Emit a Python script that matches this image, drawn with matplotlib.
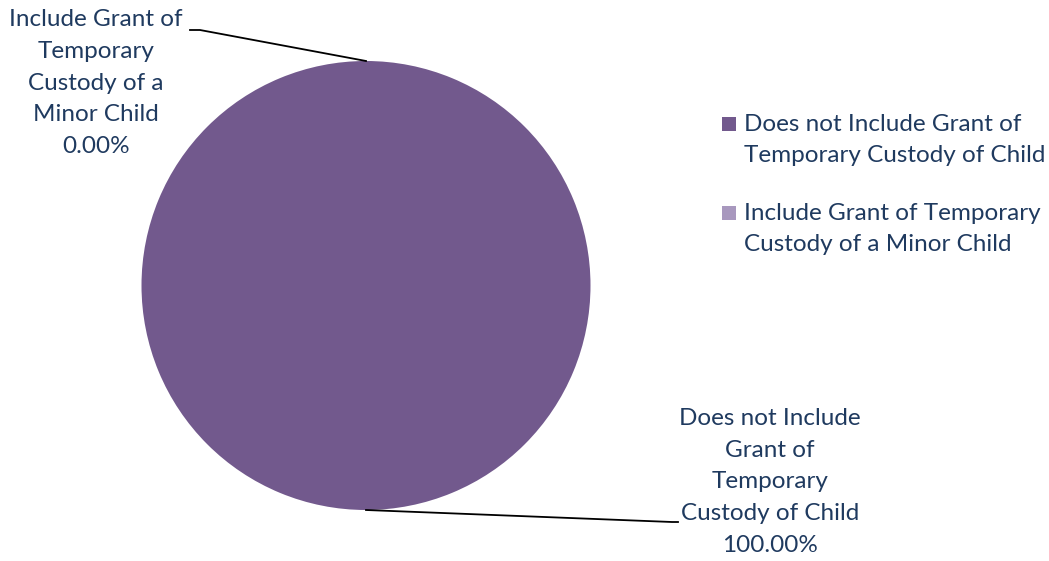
import matplotlib
matplotlib.use("Agg")
import matplotlib.pyplot as plt
from matplotlib.patches import Rectangle

categories = ["Does not Include Grant of Temporary Custody of Child",
              "Include Grant of Temporary Custody of a Minor Child"]
values = [100.0, 0.0]
colors = ["#72598D", "#A898BE"]
slice_labels = ["Does not Include\nGrant of\nTemporary\nCustody of Child",
                "Include Grant of\nTemporary\nCustody of a\nMinor Child"]
legend_labels = ["Does not Include Grant of\nTemporary Custody of Child",
                 "Include Grant of Temporary\nCustody of a Minor Child"]

W, H = 1049, 561
TXT = "#1F3A5F"
FONT = ["Lato", "DejaVu Sans"]
FS = 17.5
LS = 1.63

fig = plt.figure(figsize=(W / 100, H / 100), dpi=100)
ax = fig.add_axes([0, 0, 1, 1])

def Y(py):
    return H - py

ax.pie(values, colors=colors, center=(366, Y(285.5)), radius=224.5,
       startangle=90, counterclock=False, frame=True,
       wedgeprops=dict(linewidth=0))
ax.set_xlim(0, W)
ax.set_ylim(0, H)
ax.set_aspect("auto")
ax.axis("off")

total = sum(values)
pct = [f"{v / total * 100:.2f}%" for v in values]

# data labels with leader lines
ax.text(770, Y(482), slice_labels[0] + "\n" + pct[0], ha="center", va="center",
        fontsize=FS, color=TXT, family=FONT, linespacing=LS)
ax.plot([366, 672, 678], [Y(510), Y(522), Y(522)], color="black", lw=1.3)

ax.text(96, Y(83), slice_labels[1] + "\n" + pct[1], ha="center", va="center",
        fontsize=FS, color=TXT, family=FONT, linespacing=LS)
ax.plot([366, 200, 190], [Y(61), Y(30), Y(30)], color="black", lw=1.3)

# legend
for i, (lab, c) in enumerate(zip(legend_labels, colors)):
    y0 = 140 + i * 89
    ax.add_patch(Rectangle((722, Y(y0 - 9)), 14, 14, facecolor=c, lw=0))
    ax.text(744, Y(y0), lab, ha="left", va="center", fontsize=FS, color=TXT,
            family=FONT, linespacing=LS)

fig.savefig("out.png", dpi=100)
